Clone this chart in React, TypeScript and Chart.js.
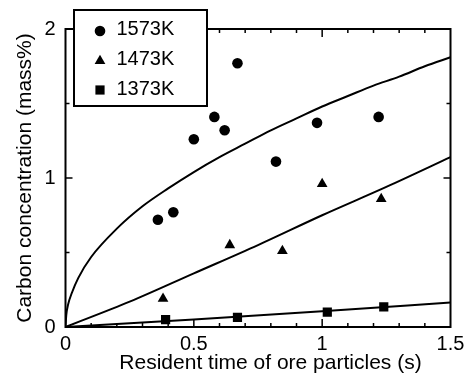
import React, { useEffect, useRef } from 'react';
import { Chart, registerables } from 'chart.js';

Chart.register(...registerables);

// Measured data points
const time1573 = [0.36, 0.42, 0.50, 0.58, 0.62, 0.67, 0.82, 0.98, 1.22];
const carbon1573 = [0.72, 0.77, 1.26, 1.41, 1.32, 1.77, 1.11, 1.37, 1.41];
const time1473 = [0.38, 0.64, 0.845, 1.0, 1.23];
const carbon1473 = [0.19, 0.55, 0.51, 0.96, 0.86];
const time1373 = [0.39, 0.67, 1.02, 1.24];
const carbon1373 = [0.05, 0.065, 0.10, 0.135];

// Model curves
const curveTime1573 = [0, 0.003, 0.01, 0.025, 0.05, 0.1, 0.2, 0.3, 0.4, 0.5, 0.6, 0.7, 0.8, 0.9, 1.0, 1.1, 1.2, 1.3, 1.4, 1.5];
const curveCarbon1573 = [0, 0.08, 0.15, 0.23, 0.33, 0.47, 0.66, 0.81, 0.93, 1.04, 1.14, 1.23, 1.32, 1.40, 1.48, 1.55, 1.62, 1.68, 1.75, 1.81];
const curveTime1473 = [0, 0.25, 0.5, 0.75, 1.0, 1.25, 1.5];
const curveCarbon1473 = [0, 0.17, 0.36, 0.55, 0.75, 0.94, 1.14];
const curveTime1373 = [0, 0.5, 1.0, 1.5];
const curveCarbon1373 = [0, 0.05, 0.105, 0.165];

const legendLabels = ['1573K', '1473K', '1373K'];
const legendStyles = ['circle', 'triangle', 'rect'];
const xTickValues = [0, 0.5, 1, 1.5];
const yTickValues = [0, 1, 2];

const FONT = '"Liberation Sans", Arial, sans-serif';

const pts = (xs: number[], ys: number[]) => xs.map((x, i) => ({ x, y: ys[i] }));

const decorPlugin = {
  id: 'decor',
  afterDatasetsDraw(chart: any) {
    const ctx = chart.ctx;
    const { left, right, top, bottom } = chart.chartArea;
    const xs = chart.scales.x;
    const ys = chart.scales.y;
    ctx.save();
    ctx.strokeStyle = '#000';
    ctx.fillStyle = '#000';
    // frame
    ctx.lineWidth = 2;
    ctx.strokeRect(left, top, right - left, bottom - top);
    // x ticks (inward, top and bottom)
    ctx.lineWidth = 1.5;
    for (let i = 1; i < 15; i++) {
      const v = i / 10;
      const px = xs.getPixelForValue(v);
      const len = i % 5 === 0 ? 8 : 4;
      ctx.beginPath();
      ctx.moveTo(px, bottom);
      ctx.lineTo(px, bottom - len);
      ctx.moveTo(px, top);
      ctx.lineTo(px, top + len);
      ctx.stroke();
    }
    // y ticks
    for (let i = 1; i < 4; i++) {
      const v = i / 2;
      const py = ys.getPixelForValue(v);
      const len = i % 2 === 0 ? 7 : 4;
      ctx.beginPath();
      ctx.moveTo(left, py);
      ctx.lineTo(left + len, py);
      ctx.moveTo(right, py);
      ctx.lineTo(right - len, py);
      ctx.stroke();
    }
    // legend box
    const bx = 74, by = 10, bw = 133, bh = 96;
    ctx.fillStyle = '#fff';
    ctx.fillRect(bx, by, bw, bh);
    ctx.lineWidth = 2;
    ctx.strokeRect(bx, by, bw, bh);
    ctx.fillStyle = '#000';
    ctx.font = `20px ${FONT}`;
    ctx.textBaseline = 'alphabetic';
    ctx.textAlign = 'left';
    const markerY = [31, 61, 90];
    const textY = [35, 65, 95];
    legendLabels.forEach((lab, i) => {
      const st = legendStyles[i];
      const mx = 100, my = markerY[i];
      ctx.beginPath();
      if (st === 'circle') {
        ctx.arc(mx, my, 5.3, 0, Math.PI * 2);
      } else if (st === 'triangle') {
        const r = 6.2;
        ctx.moveTo(mx, my - r);
        ctx.lineTo(mx + r * Math.sin(Math.PI * 2 / 3), my + r * 0.5);
        ctx.lineTo(mx - r * Math.sin(Math.PI * 2 / 3), my + r * 0.5);
        ctx.closePath();
      } else {
        ctx.rect(mx - 4.6, my - 4.6, 9.2, 9.2);
      }
      ctx.fill();
      ctx.fillText(lab, 116.5, textY[i]);
    });
    // axis titles
    ctx.font = `21px ${FONT}`;
    ctx.textAlign = 'center';
    ctx.textBaseline = 'alphabetic';
    ctx.fillText('Resident time of ore particles (s)', 270.5, 369);
    ctx.textBaseline = 'middle';
    ctx.translate(25.5, 178);
    ctx.rotate(-Math.PI / 2);
    ctx.fillText('Carbon concentration (mass%)', 0, 0);
    ctx.restore();
  },
};

export default function App() {
  const ref = useRef<HTMLCanvasElement | null>(null);
  useEffect(() => {
    if (!ref.current) return;
    const lineDs = (xs: number[], ys: number[]) => ({
      type: 'line' as const,
      data: pts(xs, ys),
      borderColor: '#000',
      borderWidth: 2,
      pointRadius: 0,
      fill: false,
      tension: 0.3,
      cubicInterpolationMode: 'monotone' as const,
    });
    const scatterDs = (xs: number[], ys: number[], style: string, r: number) => ({
      type: 'scatter' as const,
      data: pts(xs, ys),
      pointStyle: style,
      pointRadius: r,
      backgroundColor: '#000',
      borderColor: '#000',
      borderWidth: 0,
    });
    const chart = new Chart(ref.current, {
      type: 'scatter',
      data: {
        datasets: [
          lineDs(curveTime1573, curveCarbon1573),
          lineDs(curveTime1473, curveCarbon1473),
          lineDs(curveTime1373, curveCarbon1373),
          scatterDs(time1573, carbon1573, 'circle', 5.3),
          scatterDs(time1473, carbon1473, 'triangle', 6.2),
          scatterDs(time1373, carbon1373, 'rect', 6.5),
        ] as any,
      },
      options: {
        animation: false,
        responsive: false,
        events: [],
        layout: { padding: { top: 29, right: 22.5, left: 0, bottom: 0 } },
        plugins: { legend: { display: false }, tooltip: { enabled: false } },
        scales: {
          x: {
            type: 'linear',
            min: 0,
            max: 1.5,
            grid: { display: false, drawTicks: false },
            border: { display: false },
            afterBuildTicks: (s: any) => { s.ticks = xTickValues.map((v) => ({ value: v })); },
            ticks: {
              color: '#000',
              font: { family: FONT, size: 20 },
              padding: 5,
              maxRotation: 0,
              callback: (v: any) => String(v),
            },
            afterFit: (s: any) => { s.height = 47; },
          },
          y: {
            type: 'linear',
            min: 0,
            max: 2,
            grid: { display: false, drawTicks: false },
            border: { display: false },
            afterBuildTicks: (s: any) => { s.ticks = yTickValues.map((v) => ({ value: v })); },
            ticks: {
              color: '#000',
              font: { family: FONT, size: 20 },
              padding: 10,
              callback: (v: any) => String(v),
            },
            afterFit: (s: any) => { s.width = 65.5; },
          },
        },
      } as any,
      plugins: [decorPlugin],
    });
    return () => chart.destroy();
  }, []);
  return (
    <div style={{ position: 'absolute', left: 0, top: 0, width: 473, height: 374, background: '#fff' }}>
      <canvas ref={ref} width={473} height={374} style={{ display: 'block' }} />
    </div>
  );
}
